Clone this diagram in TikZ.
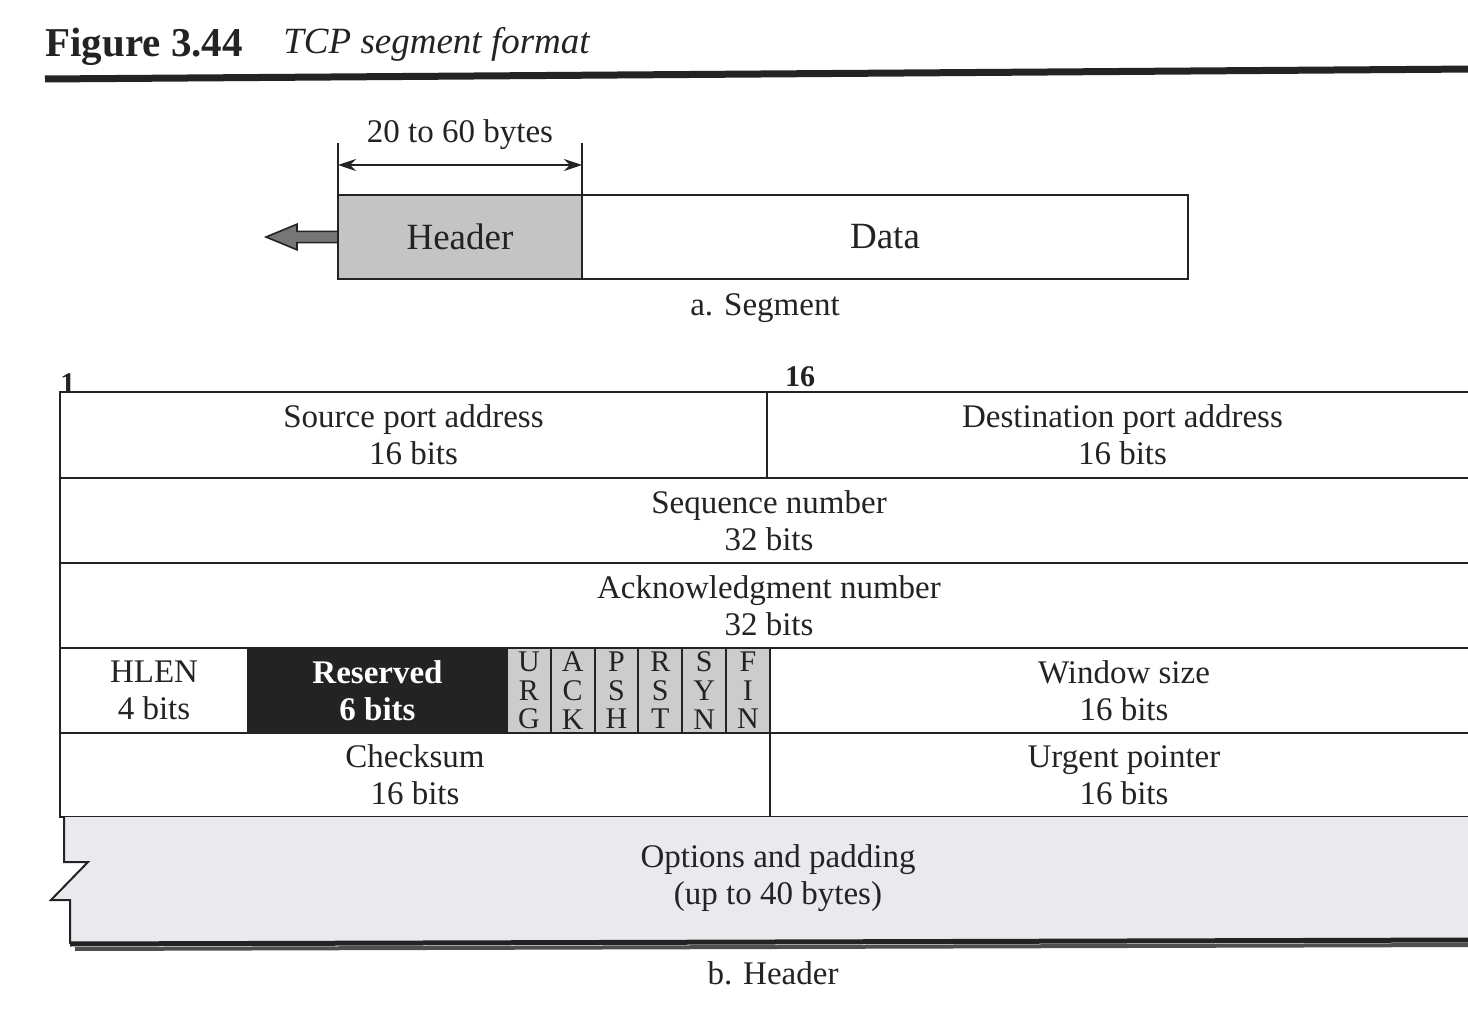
\documentclass[tikz,border=0pt]{standalone}
\usepackage{fontspec}
\setmainfont{Liberation Serif}
\usetikzlibrary{positioning,arrows.meta}

\definecolor{ink}{RGB}{35,35,35}
\definecolor{hdrgray}{RGB}{196,196,196}
\definecolor{flaggray}{RGB}{204,204,204}
\definecolor{optgray}{RGB}{233,233,238}

\newcommand{\tabfont}{\fontsize{16.5}{18.5}\selectfont}
\newcommand{\flagfont}{\fontsize{15}{14.3}\selectfont}
\newcommand{\segfont}{\fontsize{18.5}{20}\selectfont}

\tikzset{
  cell/.style={draw=ink, line width=1pt, inner sep=0pt, outer sep=0pt,
    align=center, text=ink, font=\tabfont},
  flag/.style={cell, fill=flaggray, minimum width=21.9pt, minimum height=42.5pt,
    font=\flagfont},
  label/.style={text=ink, inner sep=0pt, align=center, font=\tabfont},
}

\begin{document}
\begin{tikzpicture}[x=0.5pt, y=-0.5pt]
  \useasboundingbox (0,0) rectangle (1468,1010);

  % Title
  \node[anchor=base west, text=ink, inner sep=0pt, font=\fontsize{20.5}{22}\selectfont\bfseries]
    (fignum) at (45,57) {Figure 3.44};
  \node[anchor=base west, text=ink, inner sep=0pt, font=\fontsize{18.5}{20}\selectfont\itshape]
    (figcap) at (283,54) {TCP segment format};
  \draw[ink, line width=3.5pt] (45,79) -- (1478,69);

  % a. Segment
  \node[cell, fill=hdrgray, minimum width=122pt, minimum height=42pt, font=\segfont]
    (hdr) at (460,237) {Header};
  \node[cell, minimum width=303pt, minimum height=42pt, font=\segfont, right=0pt of hdr]
    (data) {Data};
  % block arrow out of the header
  \draw[ink, fill=hdrgray!60!black, line width=0.8pt, line join=miter]
    ([yshift=2.8pt]hdr.west) -- ++(-20.5pt,0) -- ++(0,3.6pt)
    -- ++(-15.5pt,-6.4pt) -- ++(15.5pt,-6.4pt) -- ++(0,3.6pt)
    -- ++(20.5pt,0) -- cycle;
  \coordinate (dimL) at ([yshift=26pt]hdr.north west);
  \coordinate (dimR) at ([yshift=26pt]hdr.north east);
  \draw[ink, line width=0.8pt] (hdr.north west) -- (dimL);
  \draw[ink, line width=0.8pt] (hdr.north east) -- (dimR);
  \draw[ink, line width=1pt, {Stealth[length=9pt,width=6pt]}-{Stealth[length=9pt,width=6pt]}]
    ([yshift=-11pt]dimL) -- ([yshift=-11pt]dimR);
  \node[label] (hdrlen) at (460,135) {20 to 60 bytes};
  \node[label] (capa) at (765,308) {a. Segment};

  % b. Header
  \node[label, font=\fontsize{15}{16}\selectfont\bfseries] (bit1) at (68,384) {1};
  \node[label, font=\fontsize{15}{16}\selectfont\bfseries] (bit16) at (800,377) {16};

  \node[cell, minimum width=353.5pt, minimum height=43pt] (src) at (413.5,435)
    {Source port address\\16 bits};
  \node[cell, minimum width=355.5pt, minimum height=43pt] (dst) at (1122.5,435)
    {Destination port address\\16 bits};
  \node[cell, minimum width=709pt, minimum height=42.5pt] (seq) at (769,520.5)
    {Sequence number\\32 bits};
  \node[cell, minimum width=709pt, minimum height=42.5pt] (ack) at (769,605.5)
    {Acknowledgment number\\32 bits};

  \node[cell, minimum width=94pt, minimum height=42.5pt] (hlen) at (154,690.5)
    {HLEN\\4 bits};
  \node[cell, fill=ink, text=white, minimum width=129.5pt, minimum height=42.5pt,
    font=\tabfont\bfseries] (rsv) at (377.5,690.5) {Reserved\\6 bits};
  \node[flag, right=0pt of rsv] (urg) {U\\R\\G};
  \node[flag, right=0pt of urg] (ackf) {A\\C\\K};
  \node[flag, right=0pt of ackf] (psh) {P\\S\\H};
  \node[flag, right=0pt of psh] (rst) {R\\S\\T};
  \node[flag, right=0pt of rst] (syn) {S\\Y\\N};
  \node[flag, right=0pt of syn] (fin) {F\\I\\N};
  \node[cell, minimum width=354pt, minimum height=42.5pt] (win) at (1124,690.5)
    {Window size\\16 bits};

  \node[cell, minimum width=355pt, minimum height=42pt] (chk) at (415,775)
    {Checksum\\16 bits};
  \node[cell, minimum width=354pt, minimum height=42pt] (urgp) at (1124,775)
    {Urgent pointer\\16 bits};

  % Options and padding
  \fill[optgray] (1478,817) -- (64,817) -- (64,862) -- (88,862) -- (51,900)
    -- (70,900) -- (70,942) -- (1478,942) -- cycle;
  \draw[ink, line width=1pt] (64,817) -- (64,862) -- (88,862) -- (51,900)
    -- (70,900) -- (70,944);
  \draw[ink, line width=2.5pt] (70,944) -- (1478,940);
  \draw[ink!80, line width=2pt] (75,949) -- (1478,945);
  \node[label] (opt) at (778,878) {Options and padding\\(up to 40 bytes)};
  \node[label] (capb) at (773,973) {b. Header};
\end{tikzpicture}
\end{document}
